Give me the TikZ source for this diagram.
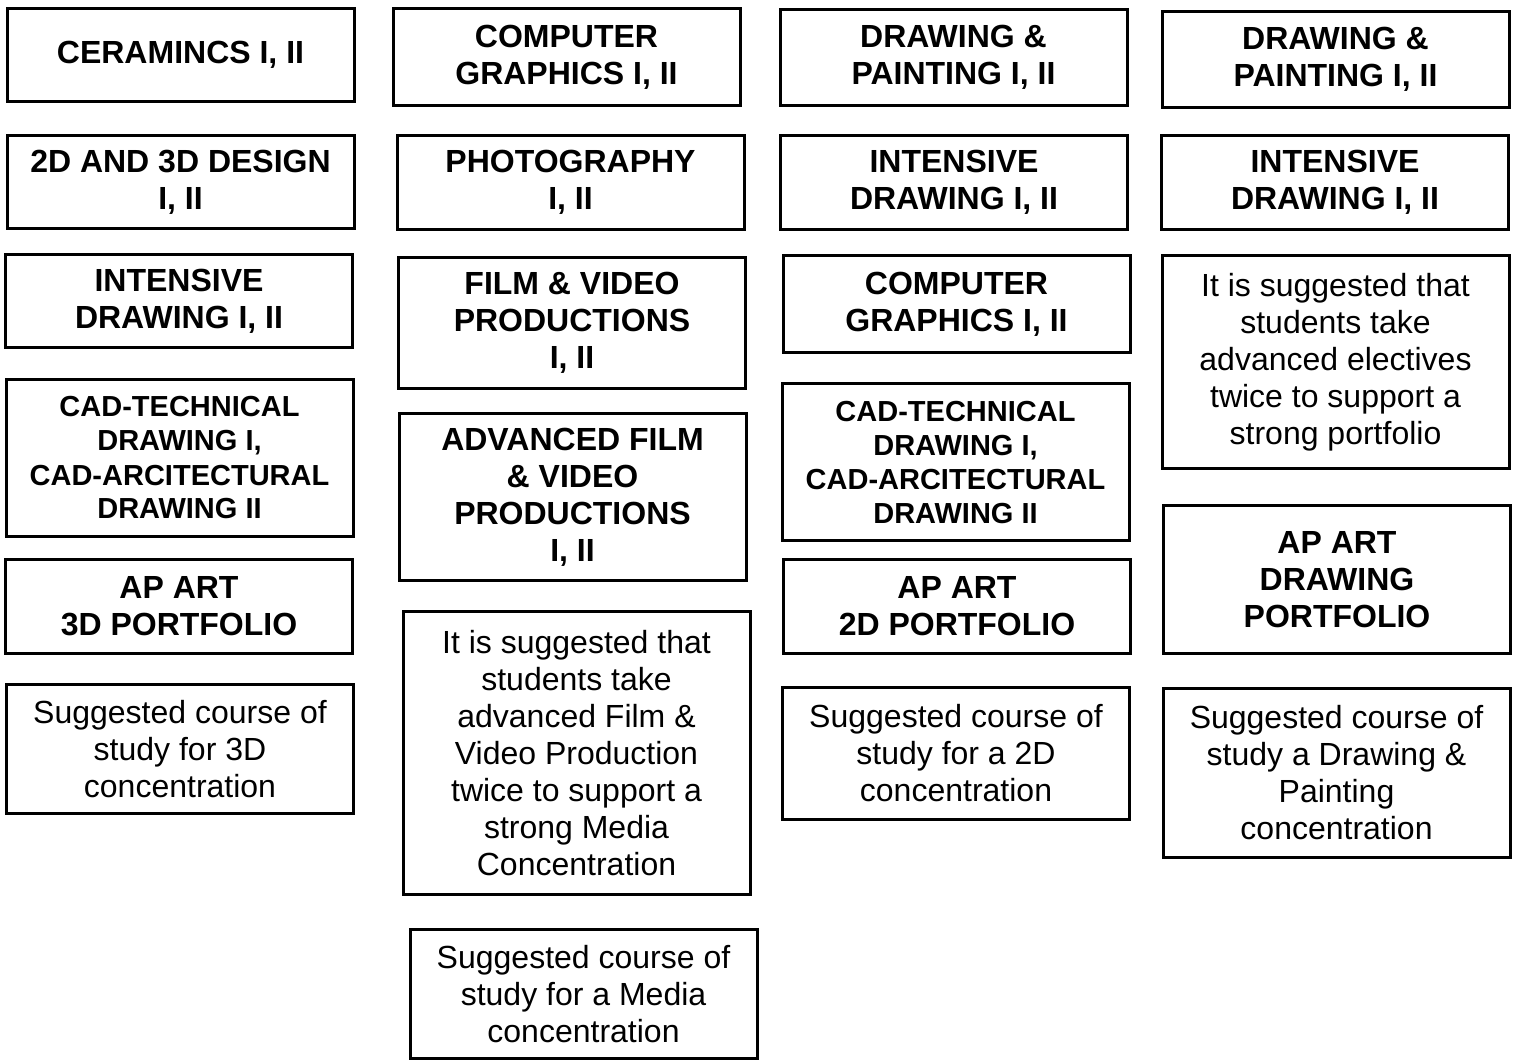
\documentclass[tikz,border=0pt]{standalone}
\usepackage{fontspec}
\setmainfont{Liberation Sans}
\usetikzlibrary{positioning}

\begin{document}
\begin{tikzpicture}[
  x=0.5pt, y=-0.5pt,
  every node/.style={align=center, inner sep=0pt},
  course/.style={
    rectangle, draw=black, line width=1.5pt,
    minimum width=173.5pt, minimum height=#1,
    font=\fontsize{16}{18.5}\selectfont\bfseries
  },
  cad/.style={
    course=#1,
    font=\fontsize{14.5}{17}\selectfont\bfseries
  },
  note/.style={
    course=#1,
    font=\fontsize{16}{18.5}\selectfont
  }
]
 \useasboundingbox (0,0) rectangle (1513,1062);

 % 3D concentration
 \node[course=46.5pt] (cer3d) at (180.5,55) {CERAMINCS I, II};
 \node[course=46.5pt] (des3d) at (180.5,182) {2D AND 3D DESIGN\\I, II};
 \node[course=46.5pt] (int3d) at (179,301) {INTENSIVE\\DRAWING I, II};
 \node[cad=78.5pt] (cad3d) at (179.5,458)
  {CAD-TECHNICAL\\DRAWING I,\\CAD-ARCITECTURAL\\DRAWING II};
 \node[course=47pt] (ap3d) at (179,606.5) {AP ART\\3D PORTFOLIO};
 \node[note=64.5pt] (sum3d) at (180,749)
  {Suggested course of\\study for 3D\\concentration};

 % Media concentration
 \node[course=48.5pt] (cgmed) at (566.5,57) {COMPUTER\\GRAPHICS I, II};
 \node[course=47pt] (phmed) at (570.5,182.5) {PHOTOGRAPHY\\I, II};
 \node[course=65.5pt] (fvmed) at (572,323) {FILM \& VIDEO\\PRODUCTIONS\\I, II};
 \node[course=83.5pt] (afvmed) at (572.5,497)
  {ADVANCED FILM\\\& VIDEO\\PRODUCTIONS\\I, II};
 \node[note=141.5pt] (tipmed) at (576.5,753)
  {It is suggested that\\students take\\advanced Film \&\\Video Production\\twice to support a\\strong Media\\Concentration};
 \node[note=64.5pt] (summed) at (583.5,994)
  {Suggested course of\\study for a Media\\concentration};

 % 2D concentration
 \node[course=48pt] (dp2d) at (953.5,57.5) {DRAWING \&\\PAINTING I, II};
 \node[course=47pt] (int2d) at (954,182.5) {INTENSIVE\\DRAWING I, II};
 \node[course=48.5pt] (cg2d) at (956.5,304) {COMPUTER\\GRAPHICS I, II};
 \node[cad=78.5pt] (cad2d) at (955.5,462)
  {CAD-TECHNICAL\\DRAWING I,\\CAD-ARCITECTURAL\\DRAWING II};
 \node[course=47pt] (ap2d) at (957,606.5) {AP ART\\2D PORTFOLIO};
 \node[note=66pt] (sum2d) at (956,753.5)
  {Suggested course of\\study for a 2D\\concentration};

 % Drawing & Painting concentration
 \node[course=48pt] (dpdp) at (1335.5,59.5) {DRAWING \&\\PAINTING I, II};
 \node[course=47pt] (intdp) at (1335,182.5) {INTENSIVE\\DRAWING I, II};
 \node[note=106.5pt] (tipdp) at (1335.5,362)
  {It is suggested that\\students take\\advanced electives\\twice to support a\\strong portfolio};
 \node[course=74pt] (apdp) at (1337,579.5) {AP ART\\DRAWING\\PORTFOLIO};
 \node[note=84.5pt] (sumdp) at (1336.5,773)
  {Suggested course of\\study a Drawing \&\\Painting\\concentration};
\end{tikzpicture}
\end{document}
